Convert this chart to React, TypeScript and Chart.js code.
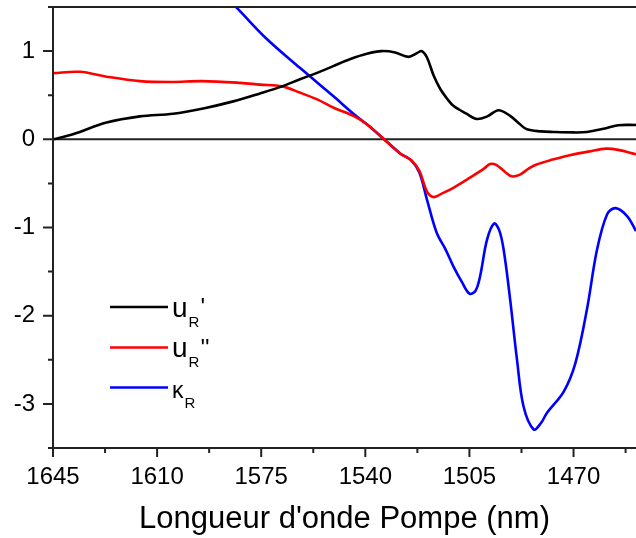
import React, { useEffect, useRef } from "react";
import { Chart, registerables } from "chart.js";

Chart.register(...registerables);

// ---- Data (wavelength in nm, values) ----
const uRpWl = [1645, 1638.3, 1627, 1615.8, 1604.6, 1594.5, 1584.4, 1575.4, 1568, 1562, 1555, 1550.8, 1545, 1539.5, 1534.5, 1530, 1525.5, 1522.5, 1521, 1519.3, 1517, 1514.8, 1512.5, 1510.4, 1506, 1502.5, 1499, 1495.2, 1491.3, 1488, 1485.7, 1481, 1476.7, 1470, 1465.5, 1459.9, 1455, 1449];
const uRpVal = [0.0, 0.057, 0.19, 0.26, 0.29, 0.35, 0.43, 0.52, 0.6, 0.68, 0.77, 0.83, 0.91, 0.97, 1.0, 0.985, 0.935, 0.98, 1.0, 0.93, 0.72, 0.57, 0.46, 0.38, 0.29, 0.23, 0.26, 0.33, 0.265, 0.17, 0.114, 0.09, 0.083, 0.078, 0.083, 0.12, 0.16, 0.163];

const uRppWl = [1645, 1636, 1627, 1615.8, 1605, 1595, 1582, 1575.4, 1568, 1562, 1556, 1550.8, 1544, 1539.5, 1534, 1528.3, 1524.5, 1521.8, 1519.3, 1517.1, 1514, 1510.4, 1504.8, 1500, 1498.1, 1496, 1493, 1490.8, 1488, 1485, 1482.4, 1477, 1471.3, 1465, 1459, 1455, 1449];
const uRppVal = [0.75, 0.765, 0.71, 0.66, 0.65, 0.66, 0.64, 0.62, 0.6, 0.53, 0.45, 0.36, 0.265, 0.17, 0.01, -0.16, -0.24, -0.36, -0.59, -0.655, -0.61, -0.55, -0.435, -0.33, -0.28, -0.29, -0.37, -0.42, -0.4, -0.33, -0.285, -0.23, -0.18, -0.14, -0.106, -0.12, -0.17];

const kRWl = [1595, 1583.8, 1573.2, 1562, 1550.8, 1544, 1539.5, 1534, 1528.3, 1524.5, 1521.8, 1519.3, 1516, 1513, 1510.4, 1507.5, 1505, 1503, 1501.4, 1499.1, 1496.7, 1495, 1493.5, 1491.3, 1489, 1486.8, 1483.4, 1481, 1478.9, 1473.3, 1469.4, 1465.5, 1462.1, 1458.7, 1455.9, 1452, 1449];
const kRVal = [1.87, 1.51, 1.14, 0.81, 0.49, 0.29, 0.17, 0.01, -0.16, -0.24, -0.38, -0.68, -1.06, -1.25, -1.44, -1.62, -1.75, -1.72, -1.55, -1.14, -0.955, -1.03, -1.25, -1.82, -2.5, -3.03, -3.29, -3.22, -3.1, -2.86, -2.54, -1.93, -1.25, -0.85, -0.78, -0.87, -1.04];

const xMajorTicks = [1645, 1610, 1575, 1540, 1505, 1470];
const xMinorTicks = [1627.5, 1592.5, 1557.5, 1522.5, 1487.5, 1452.5];
const yMajorTicks = [-3, -2, -1, 0, 1];
const yMinorTicks = [-3.5, -2.5, -1.5, -0.5, 0.5, 1.5];

const seriesColors = ["#000000", "#ff0000", "#0000ff"];
const legendMain = ["u", "u", "\u03BA"];
const legendSub = ["R", "R", "R"];
const legendSup = ["'", "''", ""];

const xTitle = "Longueur d'onde Pompe (nm)";
const FONT = "'Liberation Sans', Arial, sans-serif";

const toPoints = (xs: number[], ys: number[]) => xs.map((x, i) => ({ x, y: ys[i] }));

const axisPlugin = {
  id: "axisFrame",
  beforeDatasetsDraw(chart: any) {
    const { ctx, chartArea, scales } = chart;
    const y0 = scales.y.getPixelForValue(0);
    ctx.save();
    ctx.strokeStyle = "#222";
    ctx.lineWidth = 2;
    ctx.beginPath();
    ctx.moveTo(chartArea.left, y0);
    ctx.lineTo(chartArea.right, y0);
    ctx.stroke();
    ctx.restore();
  },
  afterDatasetsDraw(chart: any) {
    const { ctx, chartArea, scales } = chart;
    const { left, right, top, bottom } = chartArea;
    ctx.save();
    ctx.strokeStyle = "#222";
    ctx.lineWidth = 2;
    ctx.beginPath();
    ctx.moveTo(left, top);
    ctx.lineTo(right, top);
    ctx.moveTo(left, top);
    ctx.lineTo(left, bottom);
    ctx.moveTo(left, bottom);
    ctx.lineTo(right, bottom);
    yMajorTicks.forEach((v) => {
      const p = scales.y.getPixelForValue(v);
      ctx.moveTo(left - 10, p);
      ctx.lineTo(left, p);
    });
    yMinorTicks.forEach((v) => {
      const p = scales.y.getPixelForValue(v);
      ctx.moveTo(left - 5, p);
      ctx.lineTo(left, p);
    });
    xMajorTicks.forEach((v) => {
      const p = scales.x.getPixelForValue(v);
      ctx.moveTo(p, bottom);
      ctx.lineTo(p, bottom + 9);
    });
    xMinorTicks.forEach((v) => {
      const p = scales.x.getPixelForValue(v);
      ctx.moveTo(p, bottom);
      ctx.lineTo(p, bottom + 5);
    });
    ctx.stroke();

    // legend
    const lx0 = 110;
    const lx1 = 168;
    const ys = [307, 347.5, 387.5];
    for (let i = 0; i < 3; i++) {
      const y = ys[i];
      ctx.strokeStyle = seriesColors[i];
      ctx.lineWidth = 2.4;
      ctx.beginPath();
      ctx.moveTo(lx0, y);
      ctx.lineTo(lx1, y);
      ctx.stroke();
      ctx.fillStyle = "#000";
      ctx.textBaseline = "alphabetic";
      ctx.textAlign = "left";
      let x = 172;
      if (i < 2) {
        ctx.font = `28px ${FONT}`;
        ctx.fillText(legendMain[i], x, y + 9.5);
        x += ctx.measureText(legendMain[i]).width + 1;
      } else {
        ctx.font = `23px ${FONT}`;
        ctx.fillText(legendMain[i], x, y + 10.8);
        x += ctx.measureText(legendMain[i]).width + 1;
      }
      ctx.font = `15px ${FONT}`;
      ctx.fillText(legendSub[i], x, y + (i < 2 ? 19.5 : 20.8));
      x += ctx.measureText(legendSub[i]).width + 1;
      if (legendSup[i]) {
        ctx.font = `24px ${FONT}`;
        ctx.fillText(legendSup[i], x, y + 8);
      }
    }
    ctx.restore();
  },
};

export default function App() {
  const ref = useRef<HTMLCanvasElement>(null);
  useEffect(() => {
    if (!ref.current) return;
    const chart = new Chart(ref.current, {
      type: "line",
      data: {
        datasets: [
          { label: "uR'", data: toPoints(uRpWl, uRpVal), borderColor: seriesColors[0] },
          { label: "uR''", data: toPoints(uRppWl, uRppVal), borderColor: seriesColors[1] },
          { label: "kR", data: toPoints(kRWl, kRVal), borderColor: seriesColors[2] },
        ].map((d) => ({
          ...d,
          borderWidth: 2.6,
          pointRadius: 0,
          fill: false,
          tension: 0.35,
        })),
      },
      options: {
        responsive: false,
        animation: false,
        layout: { padding: { top: 7, right: 0, left: 0, bottom: 0 } },
        plugins: { legend: { display: false }, tooltip: { enabled: false } },
        scales: {
          x: {
            type: "linear",
            reverse: true,
            min: 1449,
            max: 1645,
            grid: { display: false, drawTicks: false },
            border: { display: false },
            afterBuildTicks: (s: any) => {
              s.ticks = xMajorTicks.map((v) => ({ value: v }));
            },
            afterFit: (s: any) => {
              s.height = 90;
              s.paddingLeft = 0;
              s.paddingRight = 0;
            },
            ticks: {
              padding: 15,
              maxRotation: 0,
              autoSkip: false,
              color: "#000",
              font: { family: FONT, size: 24 },
              callback: (v: any) => String(v),
            },
            title: {
              display: true,
              text: xTitle,
              color: "#000",
              font: { family: FONT, size: 31 },
              padding: { top: 0, bottom: 0 },
            },
          },
          y: {
            type: "linear",
            min: -3.5,
            max: 1.5,
            grid: { display: false, drawTicks: false },
            border: { display: false },
            afterBuildTicks: (s: any) => {
              s.ticks = yMajorTicks.map((v) => ({ value: v }));
            },
            afterFit: (s: any) => {
              s.width = 53;
              s.paddingTop = 0;
              s.paddingBottom = 0;
            },
            ticks: {
              padding: 18,
              color: "#000",
              font: { family: FONT, size: 24 },
              callback: (v: any) => String(v),
            },
          },
        },
      },
      plugins: [axisPlugin],
    });
    return () => chart.destroy();
  }, []);
  return (
    <div style={{ position: "absolute", left: 0, top: 0, width: 636, height: 538, background: "#fff" }}>
      <canvas ref={ref} width={636} height={538} style={{ display: "block" }} />
    </div>
  );
}
